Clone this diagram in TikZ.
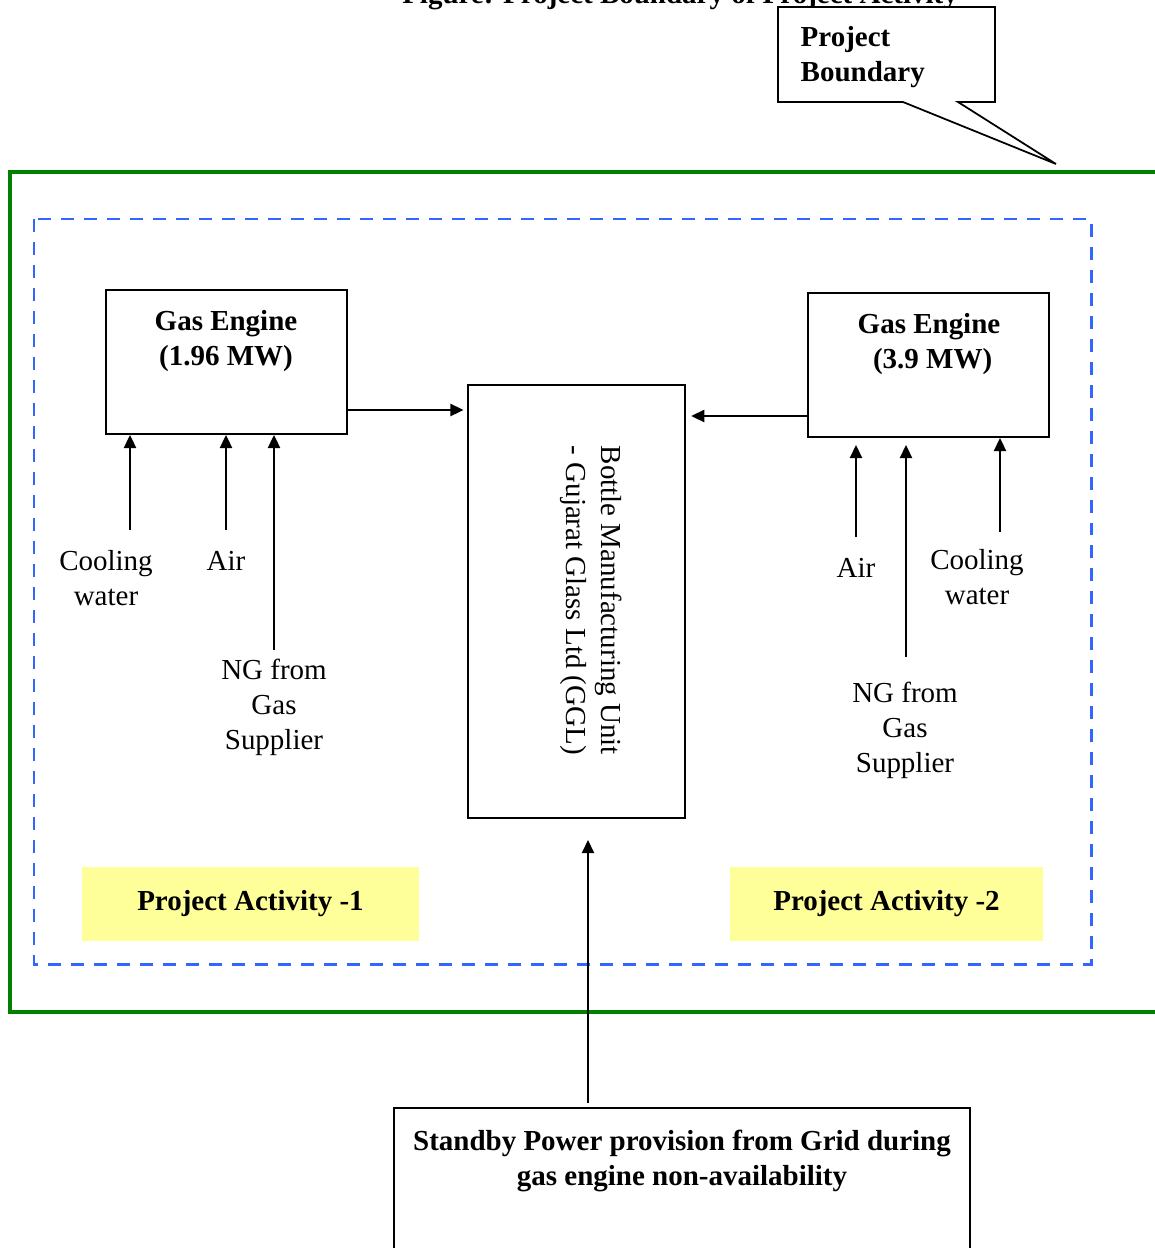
\documentclass[tikz,border=0pt]{standalone}
\usepackage{fontspec}
\setmainfont{Liberation Serif}
\usetikzlibrary{arrows.meta}

\definecolor{pbgreen}{RGB}{0,128,0}
\definecolor{pablue}{RGB}{51,102,255}
\definecolor{payellow}{RGB}{255,255,153}

\tikzset{
  box/.style={draw, line width=1.1pt, inner sep=0pt},
  arr/.style={line width=0.9pt, -{Triangle[length=7.5pt,width=7pt]}},
  txt/.style={align=center, inner sep=0pt},
  pabox/.style={fill=payellow, minimum height=1.48cm, text depth=0.35em, font=\fontsize{16.5}{19.9}\selectfont\bfseries}
}

\begin{document}
\begin{tikzpicture}[x=0.02cm, y=-0.02cm, thick,
    every node/.style={font=\fontsize{16.5}{19.9}\selectfont}]
  \useasboundingbox (0,0) rectangle (1154,1248);
  \node[anchor=base, font=\fontsize{16.5}{19.9}\selectfont\bfseries] (title) at (680,3) {Figure: Project Boundary of Project Activity};
  % boundaries
  \draw[pbgreen, line width=2.3pt] (1170,172) -- (10,172) -- (10,1012) -- (1170,1012);
  \draw[pablue, line width=1.7pt, dash pattern=on 0.26cm off 0.2cm] (34,219) rectangle (1091,964);
  % callout
  \draw[line width=1pt, fill=white] (778,7) -- (995,7) -- (995,102) -- (958,102) -- (1056,164) -- (903,102) -- (778,102) -- cycle;
  \node[anchor=west, align=left, inner sep=0pt, font=\fontsize{16.5}{19.9}\selectfont\bfseries] (pb) at (800,57.5) {Project\\Boundary};
  % boxes
  \node[box, minimum width=4.82cm, minimum height=2.88cm] (ge1) at (226.5,362) {};
  \node[txt, font=\fontsize{16.5}{19.9}\selectfont\bfseries] (ge1t) at (226,341) {Gas Engine\\(1.96 MW)};
  \node[box, minimum width=4.82cm, minimum height=2.88cm] (ge2) at (928.5,365) {};
  \node[txt, font=\fontsize{16.5}{19.9}\selectfont\bfseries] (ge2t) at (929,344) {Gas Engine\\\ (3.9 MW)};
  \node[box, minimum width=4.34cm, minimum height=8.66cm] (bmu) at (576.5,601.5) {};
  \node[rotate=-90, anchor=west, align=left, inner sep=0pt] (bmut) at (591,445) {Bottle Manufacturing Unit\\- Gujarat Glass Ltd (GGL)};
  \node[box, minimum width=11.52cm, minimum height=3.04cm] (grid) at (682,1184) {};
  \node[txt, font=\fontsize{16.5}{19.9}\selectfont\bfseries] (gridt) at (682,1160.5) {Standby Power provision from Grid during\\gas engine non-availability};
  \node[pabox, minimum width=6.74cm] (pa1) at (250.5,904) {Project Activity -1};
  \node[pabox, minimum width=6.26cm] (pa2) at (886.5,904) {Project Activity -2};
  % labels
  \node[txt] (cw1) at (106,578.5) {Cooling\\water};
  \node[txt] (air1) at (226,561) {Air};
  \node[txt] (ng1) at (274,707.5) {NG from\\Gas\\Supplier};
  \node[txt] (air2) at (856,568) {Air};
  \node[txt] (ng2) at (905,730.5) {NG from\\Gas\\Supplier};
  \node[txt] (cw2) at (977,577.5) {Cooling\\water};
  % arrows
  \coordinate (o1) at (347,410);
  \coordinate (o2) at (808,416);
  \coordinate (a1) at (130,530);
  \coordinate (a2) at (226,530);
  \coordinate (a3) at (274,650);
  \coordinate (b1) at (856,537);
  \coordinate (b2) at (906,657);
  \coordinate (b3) at (1000,532);
  \coordinate (g1) at (588,1103);
  \draw[arr] (o1) -- ([xshift=-2]o1 -| bmu.west);
  \draw[arr] (o2) -- ([xshift=3]o2 -| bmu.east);
  \draw[arr] (a1) -- (a1 |- ge1.south);
  \draw[arr] (a2) -- (a2 |- ge1.south);
  \draw[arr] (a3) -- (a3 |- ge1.south);
  \draw[arr] (b1) -- ([yshift=-4]b1 |- ge2.south);
  \draw[arr] (b2) -- ([yshift=-4]b2 |- ge2.south);
  \draw[arr] (b3) -- (b3 |- ge2.south);
  \draw[arr] (g1) -- ([yshift=-12]g1 |- bmu.south);
\end{tikzpicture}
\end{document}
